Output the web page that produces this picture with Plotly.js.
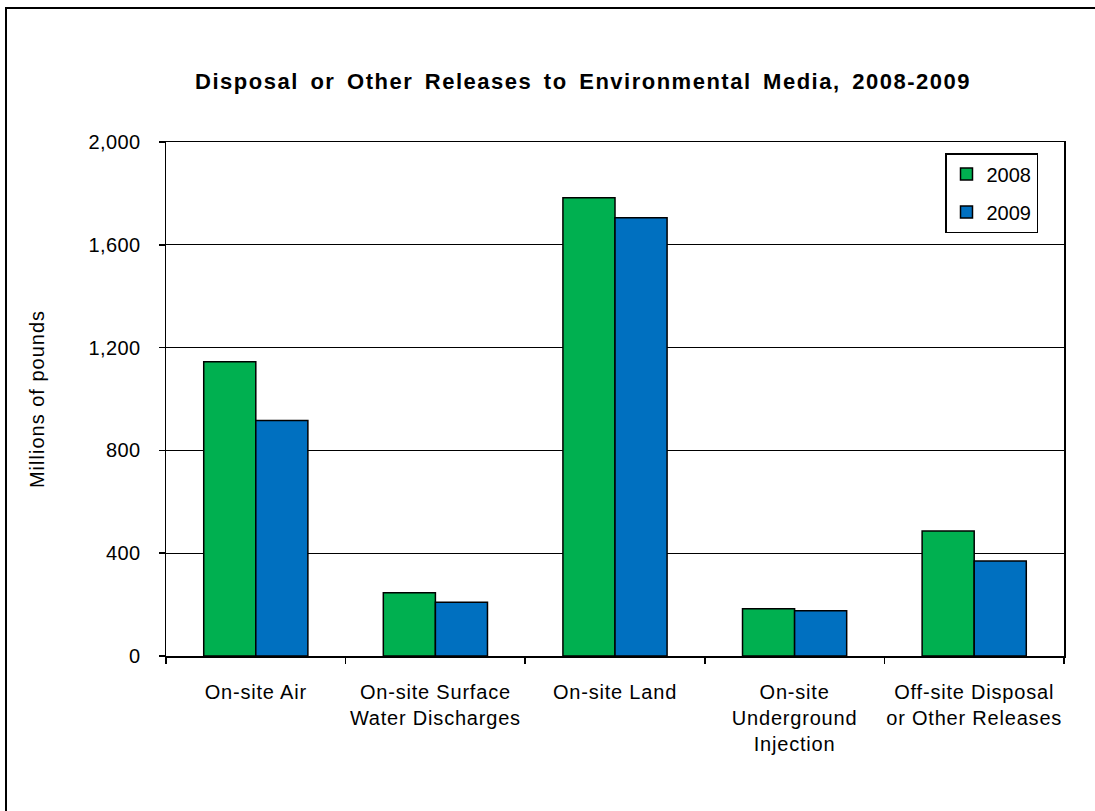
<!DOCTYPE html>
<html>
<head>
<meta charset="utf-8">
<script src="https://cdn.plot.ly/plotly-3.0.1.min.js"></script>
<style>
  html, body { margin: 0; padding: 0; background: #fff; overflow: hidden; }
  #chart { width: 1095px; height: 811px; }
  #frame { position: absolute; left: 5px; top: 7px; width: 1200px; height: 900px;
           border: 2px solid #000; pointer-events: none; }
  #chart .gtitle { letter-spacing: 1.5px; word-spacing: 4px; }
  #chart .xtick text { letter-spacing: 0.8px; }
  #chart .ytick text { letter-spacing: 0.4px; }
  #chart .ytitle { letter-spacing: 1px; }
</style>
</head>
<body>
<div id="chart"></div>
<div id="frame"></div>
<script>
const categories = [
  "On-site Air",
  "On-site Surface<br>Water Discharges",
  "On-site Land",
  "On-site<br>Underground<br>Injection",
  "Off-site Disposal<br>or Other Releases"
];
const values2008 = [1145, 246, 1783, 184, 486];
const values2009 = [916, 209, 1705, 176, 370];
const seriesNames = ["2008", "2009"];
const yTicks = [0, 400, 800, 1200, 1600, 2000];

const font = "Arial, 'Liberation Sans', sans-serif";

const traces = [
  { type: "bar", name: seriesNames[0], x: categories, y: values2008, legendgroup: "a",
    marker: { color: "#00B050", line: { color: "#000", width: 1.5 } } },
  { type: "bar", name: seriesNames[1], x: categories, y: values2009, legendgroup: "b",
    marker: { color: "#0070C0", line: { color: "#000", width: 1.5 } } }
];

const layout = {
  width: 1095, height: 811,
  margin: { l: 166, r: 31, t: 142, b: 155 },
  paper_bgcolor: "#fff", plot_bgcolor: "#fff",
  font: { family: font, size: 20, color: "#000" },
  barmode: "group", bargap: 0.42, bargroupgap: 0,
  title: { text: "<b>Disposal or Other Releases to Environmental Media, 2008-2009</b>",
           font: { family: font, size: 22, color: "#000" },
           x: 583 / 1095, xanchor: "center", y: 1 - 81/811, yanchor: "middle", xref: "container", yref: "container" },
  xaxis: {
    type: "category", showline: true, linecolor: "#000", linewidth: 1.5, mirror: true,
    ticks: "outside", tickson: "boundaries", ticklen: 6, tickcolor: "#000", tickwidth: 1.5,
    ticklabelstandoff: 17, showgrid: false, tickfont: { size: 20 }
  },
  yaxis: {
    range: [0, 2000], tickvals: yTicks, tickformat: ",d",
    showline: true, linecolor: "#000", linewidth: 1.5, mirror: true,
    ticks: "outside", ticklen: 6, tickcolor: "#000", tickwidth: 1.5,
    ticklabelstandoff: 14,
    showgrid: true, gridcolor: "#000", gridwidth: 1.2, zeroline: false,
    title: { text: "Millions of pounds", font: { size: 20 }, standoff: 40 }
  },
  legend: {
    x: (945 - 166) / 898, y: (656 - 153) / 514, xanchor: "left", yanchor: "top",
    bordercolor: "#000", borderwidth: 1.5, bgcolor: "#fff",
    font: { size: 20 }, tracegroupgap: 9, traceorder: "grouped", itemwidth: 30
  },
  showlegend: true
};

Plotly.newPlot("chart", traces, layout, { displayModeBar: false, staticPlot: true });
</script>
</body>
</html>
